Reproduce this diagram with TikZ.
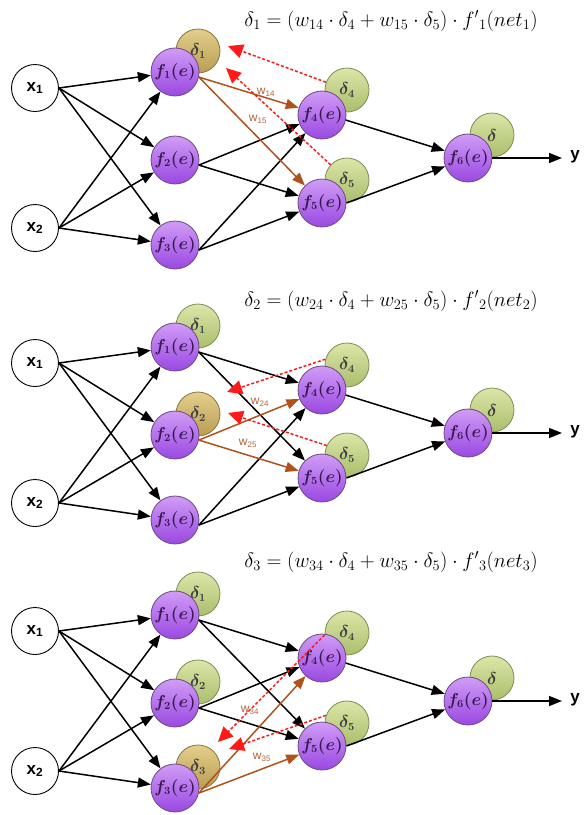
\documentclass[tikz,border=0pt]{standalone}
\usepackage{fontspec}
\setsansfont{Liberation Sans}
\usetikzlibrary{arrows.meta}
\definecolor{purpT}{HTML}{D09CF6}
\definecolor{purpB}{HTML}{9A48E2}
\definecolor{purpD}{HTML}{6A4A80}
\definecolor{purpTx}{HTML}{3A1A50}
\definecolor{grnT}{HTML}{DCE6A8}
\definecolor{grnB}{HTML}{AABE6C}
\definecolor{grnD}{HTML}{7E8C56}
\definecolor{golT}{HTML}{E4CE8C}
\definecolor{golB}{HTML}{B89E52}
\definecolor{golD}{HTML}{857540}
\definecolor{brownA}{HTML}{B0521C}
\definecolor{brownL}{HTML}{B0643C}
\definecolor{redA}{HTML}{FF1A1A}
\tikzset{
  inp/.style={circle,draw=black,line width=0.9pt,fill=white,minimum size=47pt,inner sep=0pt,font=\sffamily\bfseries\fontsize{17}{17}\selectfont},
  neuron/.style={circle,draw=purpD,line width=0.8pt,top color=purpT,bottom color=purpB,minimum size=48pt,inner sep=0pt,text=purpTx,font=\fontsize{16}{16}\selectfont\boldmath},
  dnorm/.style={circle,draw=grnD,line width=0.8pt,top color=grnT,bottom color=grnB,minimum size=44pt,inner sep=0pt,text=black!75,font=\fontsize{16}{16}\selectfont\boldmath},
  dact/.style={dnorm,draw=golD,top color=golT,bottom color=golB},
  conn/.style={line width=1.5pt,-{Triangle[length=13pt,width=10pt]}},
  wconn/.style={conn,draw=brownA},
  back/.style={draw=redA,line width=1.5pt,dash pattern=on 3pt off 2pt,-{Triangle[length=15pt,width=14pt]}},
  wlab/.style={text=brownL,font=\sffamily\fontsize{12}{12}\selectfont},
  eq/.style={font=\fontsize{21}{21}\selectfont},
  outlab/.style={font=\sffamily\bfseries\fontsize{17}{17}\selectfont}
}
\newcommand\netpanel[4]{%
\begin{scope}[shift={(0,#2)}]
  \foreach \i/\yy in {1/51,2/139,3/224}{%
    \ifnum\i>#3\relax\else
      \ifnum\i=#3\relax\def\dst{dact}\else\def\dst{dnorm}\fi
      \node[\dst] (#1d\i) at (198,\yy) {$\delta_{\i}$};
    \fi
  }
  \node[dnorm] (#1d4) at (347,90) {$\delta_4$};
  \node[dnorm] (#1d5) at (347,180) {$\delta_5$};
  \node[dnorm] (#1d6) at (492,135) {$\delta$};
  \node[neuron] (#1f1) at (175,72) {$f_1(e)$};
  \node[neuron] (#1f2) at (175,160) {$f_2(e)$};
  \node[neuron] (#1f3) at (175,245) {$f_3(e)$};
  \node[neuron] (#1f4) at (322,115) {$f_4(e)$};
  \node[neuron] (#1f5) at (322,203) {$f_5(e)$};
  \node[neuron] (#1f6) at (468,158) {$f_6(e)$};
  \node[inp] (#1x1) at (35,88) {x\textsubscript{1}};
  \node[inp] (#1x2) at (35,228) {x\textsubscript{2}};
  \coordinate (#1y) at (562,158);
  \node[outlab] (#1yl) at (575,157) {y};
  \foreach \a in {x1,x2}{\foreach \b in {f1,f2,f3}{\draw[conn] (#1\a.east) -- (#1\b);}}
  \foreach \a in {1,2,3}{%
    \ifnum\a=#3\relax\else
      \draw[conn] (#1f\a.-12) -- (#1f4);
      \draw[conn] (#1f\a.-12) -- (#1f5);
    \fi}
  \draw[wconn] (#1f#3.-12) -- (#1f4);
  \draw[wconn] (#1f#3.-12) -- (#1f5);
  \draw[conn] (#1f4.-12) -- (#1f6);
  \draw[conn] (#1f5.east) -- (#1f6);
  \draw[conn] (#1f6.east) -- (#1y);
  #4
\end{scope}}
\begin{document}
\begin{tikzpicture}[x=1pt,y=-1pt]
\useasboundingbox (0,0) rectangle (585,815);
\netpanel{A}{0}{1}{%
  \coordinate (At1) at (228,46);
  \coordinate (At2) at (226,68);
  \draw[back] (Ad4) -- (At1);
  \draw[back] (Ad5) -- (At2);
  \node[wlab] (Aw1) at (266,92) {w\textsubscript{14}};
  \node[wlab] (Aw2) at (258,119) {w\textsubscript{15}};
  \node[eq] (Aeq) at (391,21) {$\delta_1 = (w_{14}\cdot\delta_4 + w_{15}\cdot\delta_5)\cdot f'{}_1(net_1)$};
}
\netpanel{B}{275}{2}{%
  \coordinate (Bt1) at (227,117);
  \coordinate (Bt2) at (228,138);
  \draw[back] (Bd4.165) -- (Bt1);
  \draw[back] (Bd5.155) -- (Bt2);
  \node[wlab] (Bw1) at (260,127) {w\textsubscript{24}};
  \node[wlab] (Bw2) at (248,168) {w\textsubscript{25}};
  \node[eq] (Beq) at (391,26) {$\delta_2 = (w_{24}\cdot\delta_4 + w_{25}\cdot\delta_5)\cdot f'{}_2(net_2)$};
}
\netpanel{C}{543}{3}{%
  \coordinate (Ct1) at (218,199);
  \coordinate (Ct2) at (229,206);
  \draw[back] (Cd4.185) -- (Ct1);
  \draw[back] (Cd5.160) -- (Ct2);
  \node[wlab] (Cw1) at (250,167) {w\textsubscript{34}};
  \node[wlab] (Cw2) at (262,214) {w\textsubscript{35}};
  \node[eq] (Ceq) at (391,19) {$\delta_3 = (w_{34}\cdot\delta_4 + w_{35}\cdot\delta_5)\cdot f'{}_3(net_3)$};
}
\end{tikzpicture}
\end{document}
